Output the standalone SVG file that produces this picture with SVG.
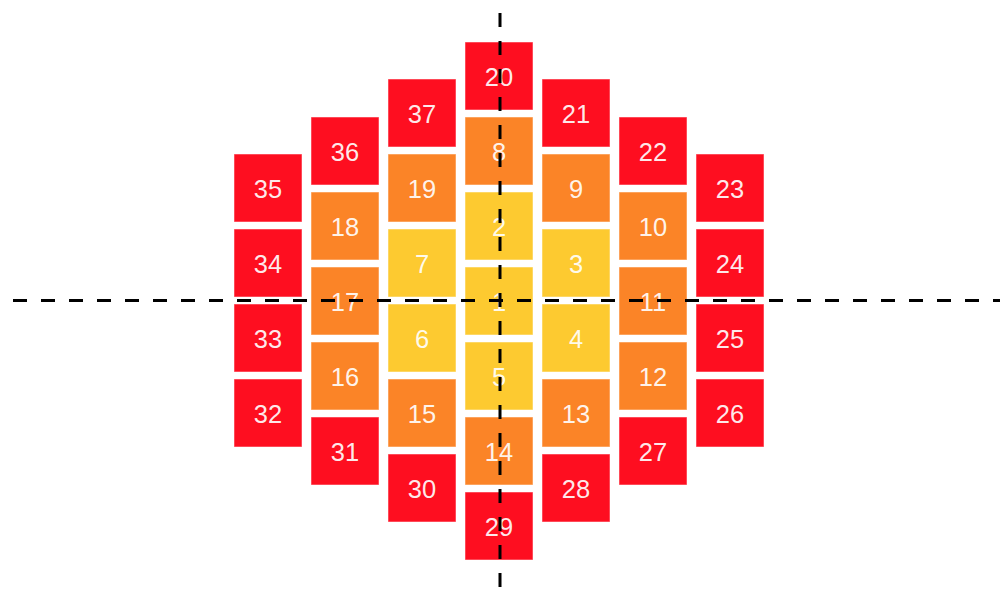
<svg xmlns="http://www.w3.org/2000/svg" width="1000" height="600" viewBox="0 0 1000 600">
<style>
.c rect{width:68px;height:68px;stroke:#fff;stroke-opacity:0.5;stroke-width:1}
.r rect{fill:#fe0e20}
.o rect{fill:#fb8427}
.y rect{fill:#fdca30}
text{font-family:"Liberation Sans",Arial,sans-serif;font-size:25.5px;fill:#fff;fill-opacity:0.92;text-anchor:middle}
.ax{stroke:#000;stroke-width:3;stroke-dasharray:14 14;fill:none}
</style>
<rect width="1000" height="600" fill="#fff"/>
<g id="n35" class="c r"><rect x="234" y="154"/><text x="268" y="198">35</text></g>
<g id="n34" class="c r"><rect x="234" y="229"/><text x="268" y="273">34</text></g>
<g id="n33" class="c r"><rect x="234" y="304"/><text x="268" y="348">33</text></g>
<g id="n32" class="c r"><rect x="234" y="379"/><text x="268" y="423">32</text></g>
<g id="n36" class="c r"><rect x="311" y="117"/><text x="345" y="161">36</text></g>
<g id="n18" class="c o"><rect x="311" y="192"/><text x="345" y="236">18</text></g>
<g id="n17" class="c o"><rect x="311" y="267"/><text x="345" y="311">17</text></g>
<g id="n16" class="c o"><rect x="311" y="342"/><text x="345" y="386">16</text></g>
<g id="n31" class="c r"><rect x="311" y="417"/><text x="345" y="461">31</text></g>
<g id="n37" class="c r"><rect x="388" y="79"/><text x="422" y="123">37</text></g>
<g id="n19" class="c o"><rect x="388" y="154"/><text x="422" y="198">19</text></g>
<g id="n7" class="c y"><rect x="388" y="229"/><text x="422" y="273">7</text></g>
<g id="n6" class="c y"><rect x="388" y="304"/><text x="422" y="348">6</text></g>
<g id="n15" class="c o"><rect x="388" y="379"/><text x="422" y="423">15</text></g>
<g id="n30" class="c r"><rect x="388" y="454"/><text x="422" y="498">30</text></g>
<g id="n20" class="c r"><rect x="465" y="42"/><text x="499" y="86">20</text></g>
<g id="n8" class="c o"><rect x="465" y="117"/><text x="499" y="161">8</text></g>
<g id="n2" class="c y"><rect x="465" y="192"/><text x="499" y="236">2</text></g>
<g id="n1" class="c y"><rect x="465" y="267"/><text x="499" y="311">1</text></g>
<g id="n5" class="c y"><rect x="465" y="342"/><text x="499" y="386">5</text></g>
<g id="n14" class="c o"><rect x="465" y="417"/><text x="499" y="461">14</text></g>
<g id="n29" class="c r"><rect x="465" y="492"/><text x="499" y="536">29</text></g>
<g id="n21" class="c r"><rect x="542" y="79"/><text x="576" y="123">21</text></g>
<g id="n9" class="c o"><rect x="542" y="154"/><text x="576" y="198">9</text></g>
<g id="n3" class="c y"><rect x="542" y="229"/><text x="576" y="273">3</text></g>
<g id="n4" class="c y"><rect x="542" y="304"/><text x="576" y="348">4</text></g>
<g id="n13" class="c o"><rect x="542" y="379"/><text x="576" y="423">13</text></g>
<g id="n28" class="c r"><rect x="542" y="454"/><text x="576" y="498">28</text></g>
<g id="n22" class="c r"><rect x="619" y="117"/><text x="653" y="161">22</text></g>
<g id="n10" class="c o"><rect x="619" y="192"/><text x="653" y="236">10</text></g>
<g id="n11" class="c o"><rect x="619" y="267"/><text x="653" y="311">11</text></g>
<g id="n12" class="c o"><rect x="619" y="342"/><text x="653" y="386">12</text></g>
<g id="n27" class="c r"><rect x="619" y="417"/><text x="653" y="461">27</text></g>
<g id="n23" class="c r"><rect x="696" y="154"/><text x="730" y="198">23</text></g>
<g id="n24" class="c r"><rect x="696" y="229"/><text x="730" y="273">24</text></g>
<g id="n25" class="c r"><rect x="696" y="304"/><text x="730" y="348">25</text></g>
<g id="n26" class="c r"><rect x="696" y="379"/><text x="730" y="423">26</text></g>
<g id="axes">
<line class="ax" x1="13" y1="300.5" x2="1000" y2="300.5"/>
<line class="ax" x1="500" y1="13" x2="500" y2="590"/>
</g>
</svg>
